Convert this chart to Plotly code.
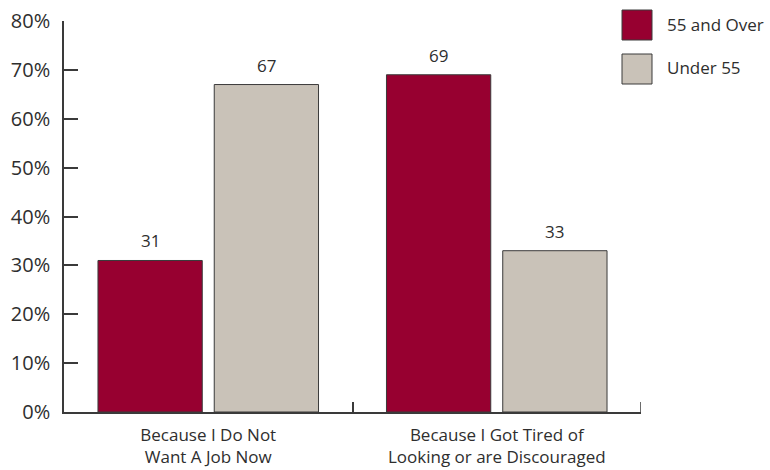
import plotly.graph_objects as go

# Reasons given for not seeking work, split by age group (percent)
categories = ["Because I Do Not<br>Want A Job Now", "Because I Got Tired of<br>Looking or are Discouraged"]
series_names = ["55 and Over", "Under 55"]
over_55 = [31, 69]
under_55 = [67, 33]
y_ticks = [0, 10, 20, 30, 40, 50, 60, 70, 80]
y_tick_labels = [f"{t}%" for t in y_ticks]

colors = ["#970030", "#c9c2b8"]
outline = "#3a3a3a"
text_color = "#2e2e2e"
font_family = "'Open Sans', Lato, sans-serif"

bargap = 0.194
bargroupgap = 0.103

fig = go.Figure()
for name, vals, col in zip(series_names, [over_55, under_55], colors):
    fig.add_trace(go.Bar(
        x=categories, y=vals, name=name,
        marker=dict(color=col, line=dict(color=outline, width=1)),
        showlegend=False, hoverinfo="skip",
    ))

# value labels above each bar
slot = (1 - bargap) / len(series_names)
for s, vals in enumerate([over_55, under_55]):
    offset = -(1 - bargap) / 2 + slot * (s + 0.5)
    for i, v in enumerate(vals):
        fig.add_annotation(
            x=i + offset, y=v, xref="x", yref="y", text=str(v),
            showarrow=False, yanchor="bottom", yshift=6,
            font=dict(family=font_family, size=17, color=text_color),
        )

# legend drawn as swatches with labels
for k, (name, col) in enumerate(zip(series_names, colors)):
    top = 10 + k * 44
    fig.add_shape(
        type="rect", xref="paper", yref="paper",
        x0=(622 - 64) / 577, x1=(652 - 64) / 577,
        y0=(412 - top) / 391, y1=(412 - top - 30) / 391,
        fillcolor=col, line=dict(color=outline, width=1),
    )
    fig.add_annotation(
        x=(665 - 64) / 577, y=(412 - top - 14) / 391, xref="paper", yref="paper",
        text=name, showarrow=False, xanchor="left", yanchor="middle",
        font=dict(family=font_family, size=17, color=text_color),
    )

# closing tick at the right end of the category axis
fig.add_shape(
    type="line", xref="x", yref="paper", x0=1.5, x1=1.5, y0=0, y1=10 / 391,
    line=dict(color=outline, width=1.5),
)

fig.update_layout(
    width=770, height=470,
    margin=dict(l=64, r=129, t=21, b=58),
    paper_bgcolor="white", plot_bgcolor="white",
    barmode="group", bargap=bargap, bargroupgap=bargroupgap,
    font=dict(family=font_family, color=text_color),
)
fig.update_xaxes(
    type="category", range=[-0.5, 1.5], automargin=False,
    showline=True, linecolor=outline, linewidth=1.5,
    ticks="inside", tickson="boundaries", ticklen=10, tickcolor=outline, tickwidth=1.5,
    tickfont=dict(size=17, family=font_family, color=text_color),
    ticklabelstandoff=7,
    showgrid=False, zeroline=False,
)
fig.update_yaxes(
    range=[0, 80], tickmode="array", tickvals=y_ticks, ticktext=y_tick_labels,
    automargin=False,
    showline=True, linecolor=outline, linewidth=1.5,
    ticks="inside", ticklen=14, tickcolor=outline, tickwidth=1.5,
    tickfont=dict(size=20, family=font_family, color=text_color),
    ticklabelstandoff=8,
    showgrid=False, zeroline=False,
)

fig.write_html("out.html")
